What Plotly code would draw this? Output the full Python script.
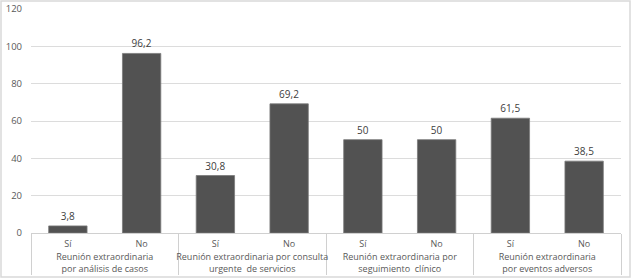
import plotly.graph_objects as go

groups = [
    "Reunión extraordinaria<br>por análisis de casos",
    "Reunión extraordinaria por consulta<br>urgente  de servicios",
    "Reunión extraordinaria por<br>seguimiento  clínico",
    "Reunión extraordinaria<br>por eventos adversos",
]
answers = ["Sí", "No"]
values = [3.8, 96.2, 30.8, 69.2, 50, 50, 61.5, 38.5]
labels = ["3,8", "96,2", "30,8", "69,2", "50", "50", "61,5", "38,5"]

x_outer = [g for g in groups for _ in answers]
x_inner = [a for _ in groups for a in answers]

fig = go.Figure(go.Bar(
    x=[x_outer, x_inner],
    y=values,
    text=labels,
    textposition="outside",
    textfont=dict(size=10, color="#404040", family="Open Sans"),
    cliponaxis=False,
    marker=dict(color="#525252", line=dict(color="#7a7a7a", width=0.8)),
    width=0.52,
))

fig.update_layout(
    width=631, height=279,
    margin=dict(l=31, r=10, t=9, b=46),
    paper_bgcolor="white", plot_bgcolor="white",
    showlegend=False,
    font=dict(family="Open Sans", size=9, color="#595959"),
    bargap=0.48,
)
fig.update_xaxes(
    type="multicategory",
    automargin=False,
    showline=True, linecolor="#d0d0d0", linewidth=1,
    showdividers=True, dividercolor="#d0d0d0", dividerwidth=1,
    tickfont=dict(size=9, color="#595959"),
    ticks="",
    ticklabelstandoff=2,
)
fig.update_yaxes(
    automargin=False,
    range=[0, 120], dtick=20,
    showgrid=True, gridcolor="#dcdcdc", gridwidth=1,
    zeroline=False,
    tickfont=dict(size=9.5, color="#595959"),
    ticklabelstandoff=8,
)
fig.add_shape(type="rect", xref="paper", yref="paper",
              x0=-30/590, x1=1+9/590, y0=-44/224, y1=1+8/224,
              line=dict(color="#d9d9d9", width=1.5), layer="below")

fig.write_html("out.html",
               config={"displayModeBar": False},
               post_script="document.body.style.margin='0';document.body.style.overflow='hidden';")
